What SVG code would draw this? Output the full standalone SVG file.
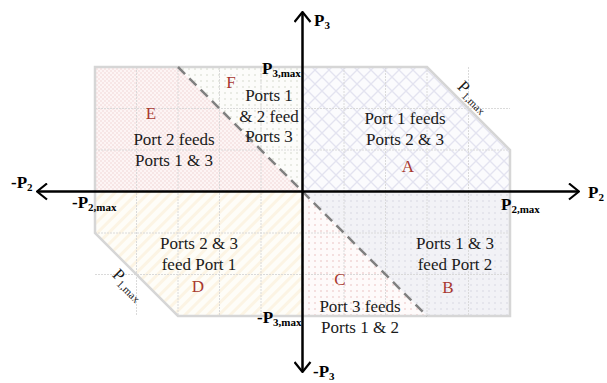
<svg xmlns="http://www.w3.org/2000/svg" width="607" height="383" viewBox="0 0 607 383">
<defs>
<style>
.t{font-family:"Liberation Serif","DejaVu Serif",serif;font-size:17px;fill:#1a1a1a;text-anchor:middle}
.l{font-family:"Liberation Serif","DejaVu Serif",serif;font-size:17px;fill:#a8382f;text-anchor:middle}
.ax{font-family:"Liberation Serif","DejaVu Serif",serif;font-size:17px;font-weight:bold;fill:#000}
.sub{font-size:11px}
.grid{stroke:#dadada;stroke-width:1;stroke-dasharray:2 1;fill:none}
.axis{stroke:#000;stroke-width:2.5;fill:none}
</style>
<pattern id="pE" width="4" height="4" patternUnits="userSpaceOnUse">
<rect width="4" height="4" fill="#fdf5f5"/>
<rect width="2" height="2" fill="#f7e6e6"/>
<rect x="2" y="2" width="2" height="2" fill="#f7e6e6"/>
</pattern>
<pattern id="pA" width="14" height="14" patternUnits="userSpaceOnUse">
<rect width="14" height="14" fill="#fbfbfd"/>
<path d="M0 7 L7 0 L14 7 L7 14 Z" fill="none" stroke="#e3e3f0" stroke-width="1.3"/>
</pattern>
<pattern id="pB" width="6" height="6" patternUnits="userSpaceOnUse">
<rect width="6" height="6" fill="#f2f2f6"/>
<rect x="2" y="2" width="2" height="2" fill="#e5e5ec"/>
</pattern>
<pattern id="pC" width="6" height="6" patternUnits="userSpaceOnUse">
<rect width="6" height="6" fill="#fefafa"/>
<rect x="2" y="2" width="2" height="2" fill="#f4dfdf"/>
</pattern>
<pattern id="pF" width="6" height="6" patternUnits="userSpaceOnUse">
<rect width="6" height="6" fill="#fcfcfa"/>
<rect x="2" y="2" width="2" height="2" fill="#e9ebe4"/>
</pattern>
<pattern id="pD" width="8" height="8" patternUnits="userSpaceOnUse" patternTransform="rotate(45)">
<rect width="8" height="8" fill="#fefdf8"/>
<rect width="3" height="8" fill="#fcf4e4"/>
</pattern>
<marker id="arr" viewBox="0 0 12 18" refX="11" refY="9" markerWidth="12" markerHeight="18" markerUnits="userSpaceOnUse" orient="auto-start-reverse">
<path d="M1 1 L11 9 L1 17" fill="none" stroke="#000" stroke-width="2.2"/>
</marker>
</defs>
<rect width="607" height="383" fill="#fff"/>

<g id="regionA">
<polygon points="302.5,67 427,67 510,150 510,191.5 302.5,191.5" fill="url(#pA)"/>
</g>
<g id="regionB">
<polygon points="302.5,191.5 510,191.5 510,316 427,316" fill="url(#pB)"/>
</g>
<g id="regionC">
<polygon points="302.5,191.5 427,316 302.5,316" fill="url(#pC)"/>
</g>
<g id="regionD">
<polygon points="95,191.5 302.5,191.5 302.5,316 178,316 95,233" fill="url(#pD)"/>
</g>
<g id="regionE">
<polygon points="95,67 178,67 302.5,191.5 95,191.5" fill="url(#pE)"/>
</g>
<g id="regionF">
<polygon points="178,67 302.5,67 302.5,191.5" fill="url(#pF)"/>
</g>

<g id="grid">
<path class="grid" d="M136.5 67V316M178 67V316M219.5 67V316M261 67V316M344 67V316M385.5 67V316M427 67V316M468.5 67V316M95 108.5H510M95 150H510M95 233H510M95 274.5H510"/>
</g>

<g id="outline">
<polygon points="95,67 427,67 510,150 510,316 178,316 95,233" fill="none" stroke="#d6d6d6" stroke-width="2.5"/>
</g>

<g id="connectors">
<line x1="178" y1="67" x2="427" y2="316" stroke="#808080" stroke-width="2.5" stroke-dasharray="10 6"/>
<line class="axis" x1="37" y1="191.5" x2="579" y2="191.5" marker-start="url(#arr)" marker-end="url(#arr)"/>
<line class="axis" x1="302.5" y1="12" x2="302.5" y2="372" marker-start="url(#arr)" marker-end="url(#arr)"/>
</g>

<g id="labelsA">
<text class="t" x="405" y="124">Port 1 feeds</text>
<text class="t" x="405" y="145">Ports 2 &amp; 3</text>
<text class="l" x="408" y="172">A</text>
</g>
<g id="labelsB">
<text class="t" x="455" y="249">Ports 1 &amp; 3</text>
<text class="t" x="455" y="270">feed Port 2</text>
<text class="l" x="448" y="293">B</text>
</g>
<g id="labelsC">
<text class="l" x="340" y="285">C</text>
<text class="t" x="360" y="312">Port 3 feeds</text>
<text class="t" x="360" y="333">Ports 1 &amp; 2</text>
</g>
<g id="labelsD">
<text class="t" x="199" y="249">Ports 2 &amp; 3</text>
<text class="t" x="199" y="270">feed Port 1</text>
<text class="l" x="198" y="292">D</text>
</g>
<g id="labelsE">
<text class="l" x="151" y="119">E</text>
<text class="t" x="174" y="145">Port 2 feeds</text>
<text class="t" x="174" y="166">Ports 1 &amp; 3</text>
</g>
<g id="labelsF">
<text class="l" x="231" y="88">F</text>
<text class="t" x="269" y="101">Ports 1</text>
<text class="t" x="269" y="122">&amp; 2 feed</text>
<text class="t" x="269" y="142">Ports 3</text>
</g>

<g id="axisLabels">
<text class="ax" x="588" y="198">P<tspan class="sub" dy="3">2</tspan></text>
<text class="ax" x="11" y="188">-P<tspan class="sub" dy="3">2</tspan></text>
<text class="ax" x="314" y="26">P<tspan class="sub" dy="3">3</tspan></text>
<text class="ax" x="313" y="377">-P<tspan class="sub" dy="3">3</tspan></text>
<text class="ax" x="262" y="74">P<tspan class="sub" dy="3">3,max</tspan></text>
<text class="ax" x="257" y="323">-P<tspan class="sub" dy="3">3,max</tspan></text>
<text class="ax" x="72" y="208">-P<tspan class="sub" dy="3">2,max</tspan></text>
<text class="ax" x="501" y="210">P<tspan class="sub" dy="3">2,max</tspan></text>
<text class="t" transform="translate(473,97) rotate(45)" x="0" y="5">P<tspan class="sub" dy="3">1,max</tspan></text>
<text class="t" transform="translate(128,285) rotate(45)" x="0" y="5">P<tspan class="sub" dy="3">1,max</tspan></text>
</g>
</svg>
